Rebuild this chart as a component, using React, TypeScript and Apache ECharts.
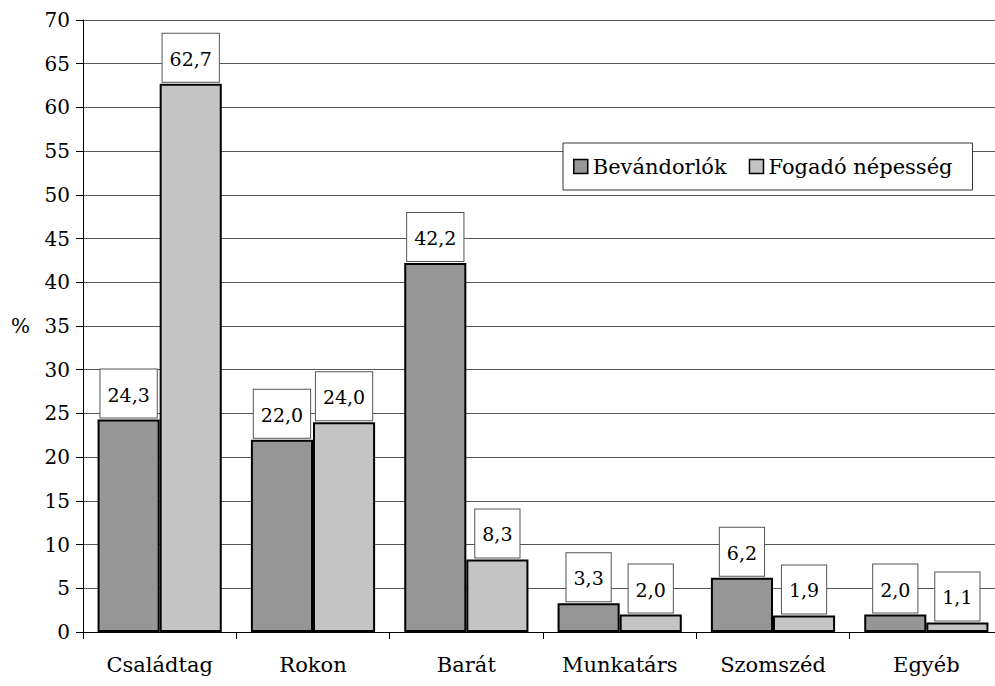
import React, { useEffect, useRef } from "react";
import * as echarts from "echarts";

const categories = ["Családtag", "Rokon", "Barát", "Munkatárs", "Szomszéd", "Egyéb"];
const bevandorlok = [24.3, 22.0, 42.2, 3.3, 6.2, 2.0];
const fogado = [62.7, 24.0, 8.3, 2.0, 1.9, 1.1];
const seriesNames = ["Bevándorlók", "Fogadó népesség"];
const yMin = 0;
const yMax = 70;
const yInterval = 5;

const FONT = "DejaVu Serif";

export default function App() {
  const ref = useRef<HTMLDivElement>(null);
  useEffect(() => {
    if (!ref.current) return;
    const chart = echarts.init(ref.current, undefined, { renderer: "svg" });
    const label = {
      show: true,
      position: "top",
      distance: 2,
      formatter: (p: any) => Number(p.value).toFixed(1).replace(".", ","),
      backgroundColor: "#ffffff",
      borderColor: "#555555",
      borderWidth: 1,
      padding: [12, 7, 10, 7],
      fontSize: 19,
      lineHeight: 26,
      fontFamily: FONT,
      color: "#000000",
    };
    chart.setOption({
      animation: false,
      backgroundColor: "#ffffff",
      grid: { left: 83, top: 20, height: 612, width: 920, containLabel: false, outerBoundsMode: "none" },
      legend: {
        data: seriesNames,
        left: 563,
        top: 143,
        orient: "horizontal",
        icon: "rect",
        itemWidth: 14,
        itemHeight: 14,
        itemGap: 22,
        padding: [13, 20, 13, 10],
        backgroundColor: "#ffffff",
        borderColor: "#333333",
        borderWidth: 1,
        textStyle: { fontSize: 21, fontFamily: FONT, color: "#000000" },
        itemStyle: { borderColor: "#000000", borderWidth: 1.5 },
      },
      xAxis: {
        type: "category",
        data: categories,
        axisLine: { lineStyle: { color: "#000000", width: 1 } },
        axisTick: { show: true, alignWithLabel: false, length: 7, lineStyle: { color: "#000000" } },
        axisLabel: { fontSize: 21, fontFamily: FONT, color: "#000000", margin: 22 },
      },
      yAxis: {
        type: "value",
        min: yMin,
        max: yMax,
        interval: yInterval,
        name: "%",
        nameLocation: "middle",
        nameRotate: 0,
        nameGap: 53,
        nameTextStyle: { fontSize: 20, fontFamily: FONT, color: "#000000" },
        axisLine: { show: true, lineStyle: { color: "#000000", width: 1 } },
        axisTick: { show: true, length: 7, lineStyle: { color: "#000000" } },
        axisLabel: { fontSize: 20, fontFamily: FONT, color: "#000000", margin: 13 },
        splitLine: { show: true, lineStyle: { color: "#555555", width: 1 } },
      },
      series: [
        {
          name: seriesNames[0],
          type: "bar",
          data: bevandorlok,
          barGap: "0%",
          barCategoryGap: "19%",
          itemStyle: { color: "#969696", borderColor: "#000000", borderWidth: 2 },
          label,
        },
        {
          name: seriesNames[1],
          type: "bar",
          data: fogado,
          barGap: "0%",
          barCategoryGap: "19%",
          itemStyle: { color: "#c4c4c4", borderColor: "#000000", borderWidth: 2 },
          label,
        },
      ],
    });
    return () => chart.dispose();
  }, []);
  return (
    <div
      ref={ref}
      style={{ position: "absolute", left: 0, top: 0, width: 995, height: 686, overflow: "hidden" }}
    />
  );
}
